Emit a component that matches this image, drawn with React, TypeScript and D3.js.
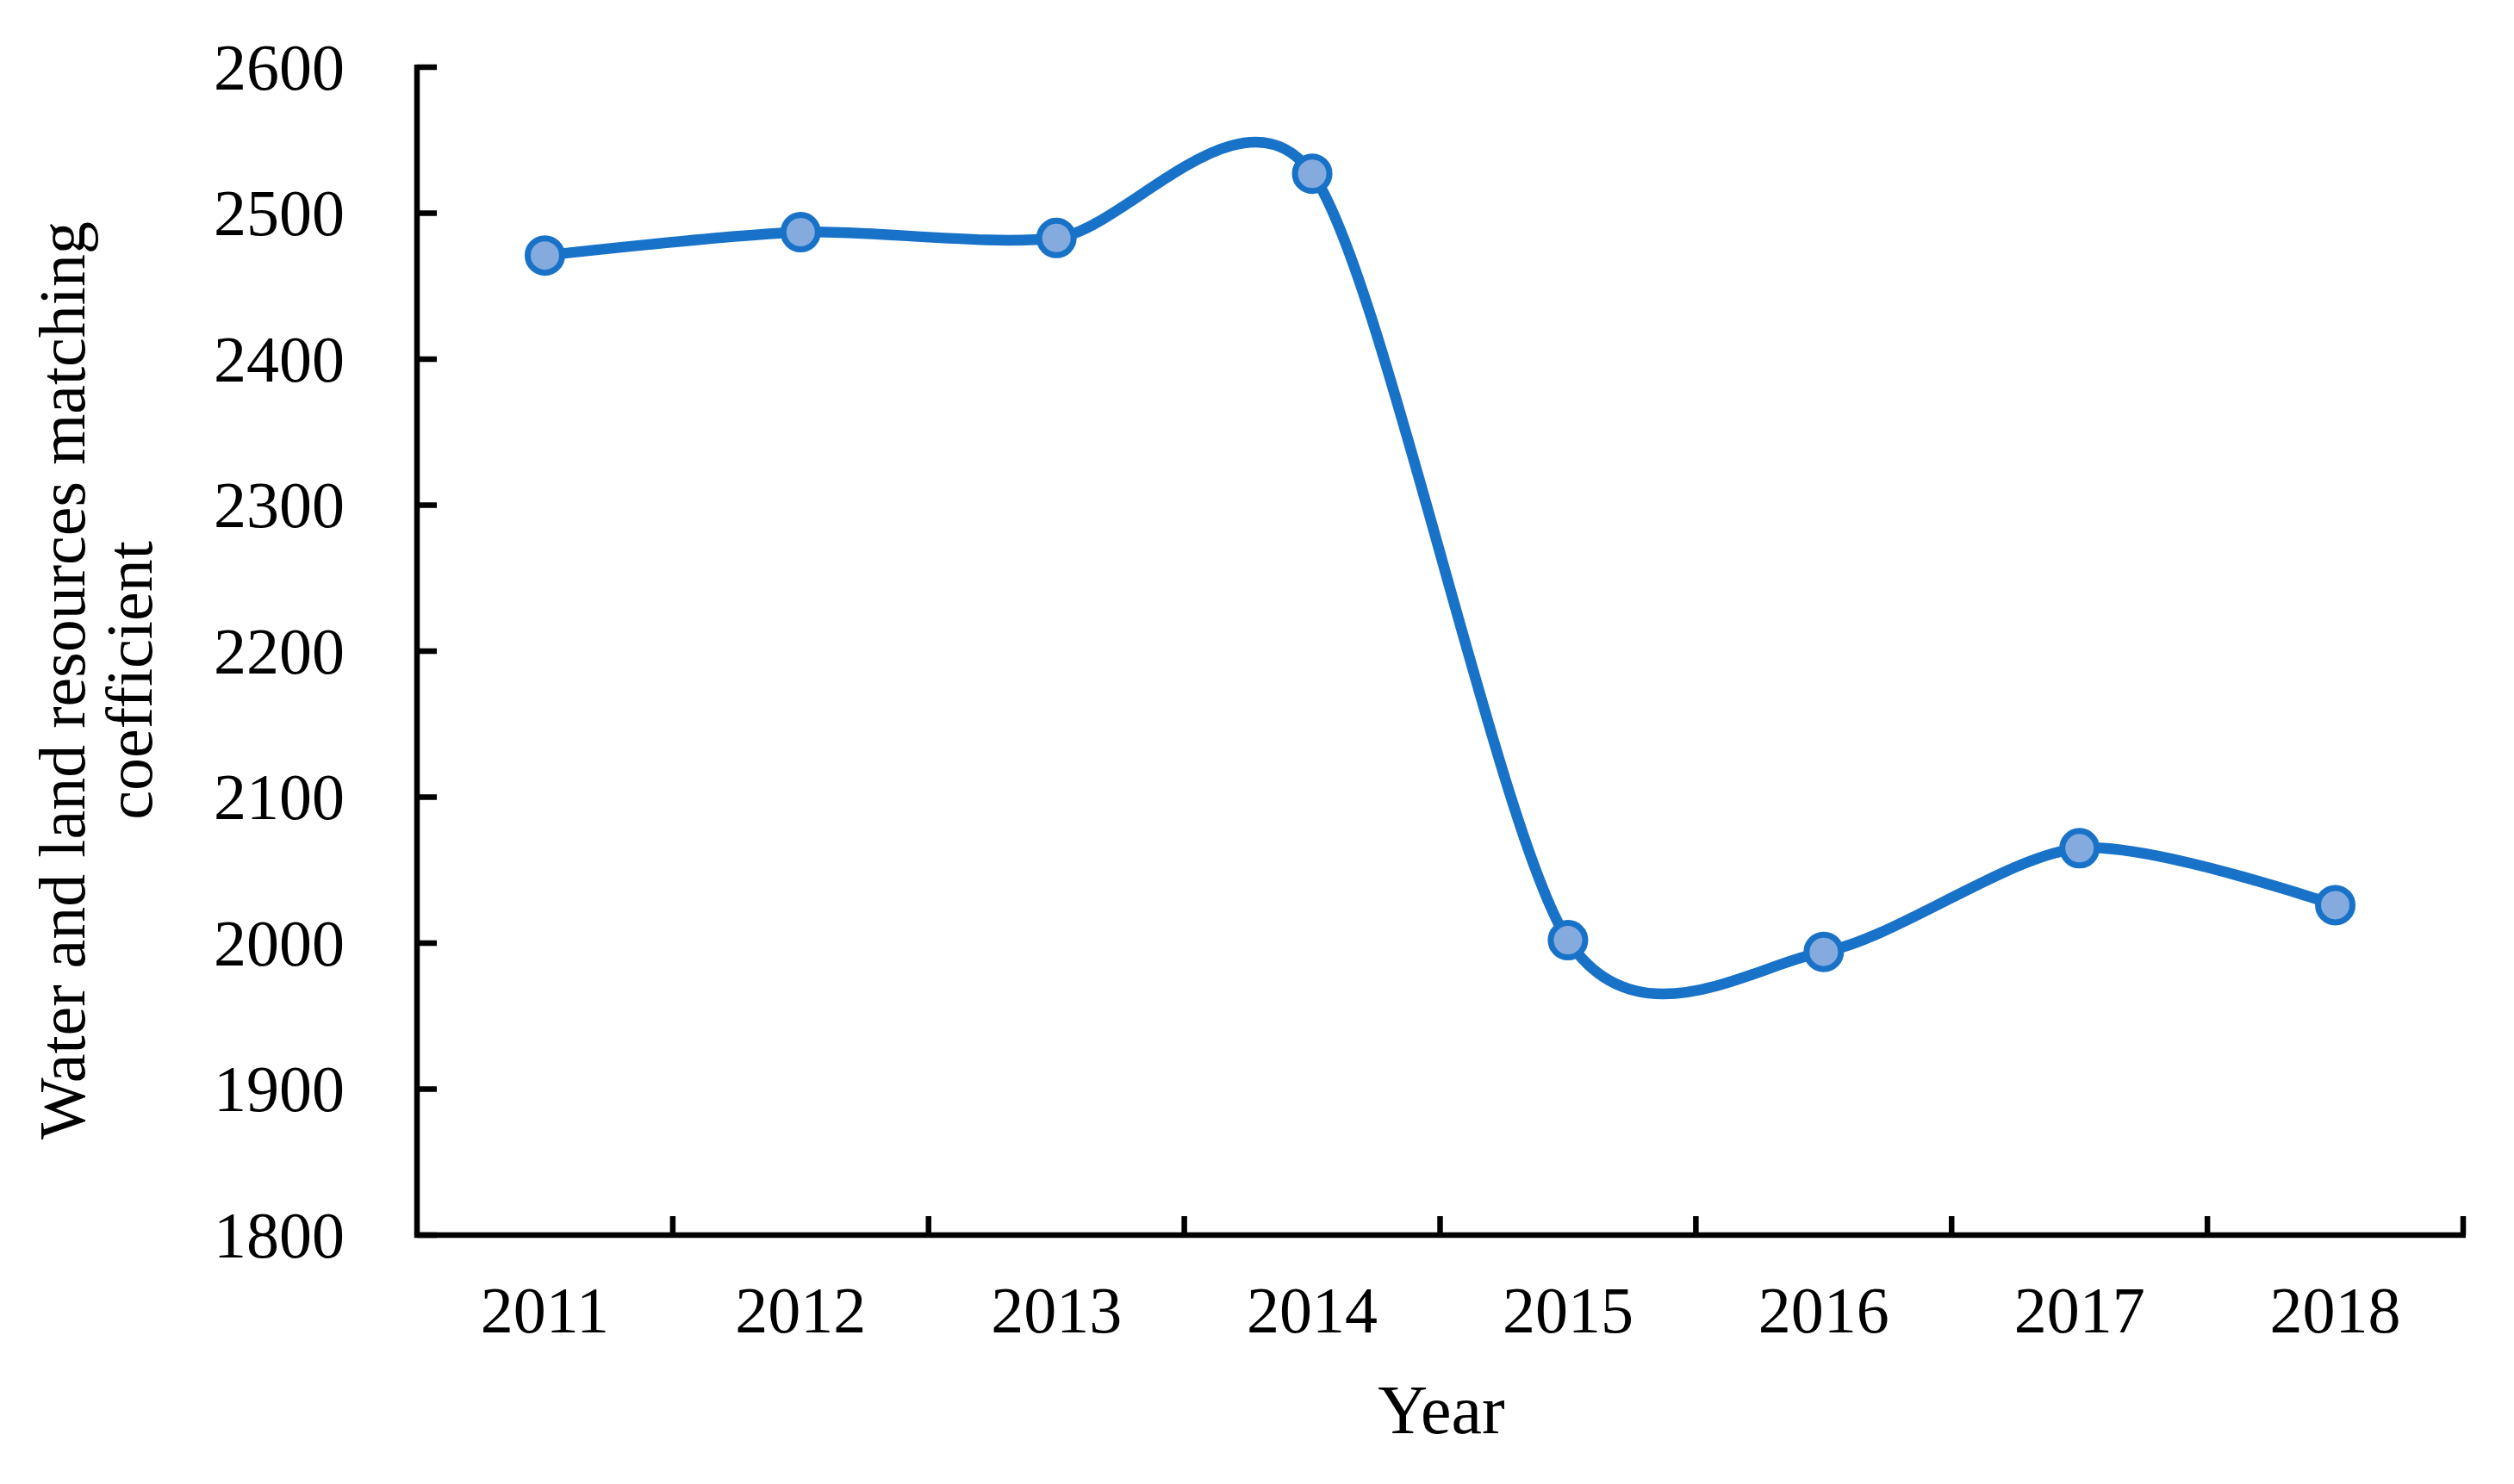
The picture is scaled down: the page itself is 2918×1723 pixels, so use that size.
import React from "react";
import * as d3 from "d3";

const years = ["2011", "2012", "2013", "2014", "2015", "2016", "2017", "2018"];
const values = [2471, 2487, 2483, 2527, 2002, 1994, 2065, 2026];
const yTicks = [1800, 1900, 2000, 2100, 2200, 2300, 2400, 2500, 2600];
const yLabelLines = ["Water and land resources matching", "coefficient"];
const xTitle = "Year";

const W = 2918;
const H = 1723;
const left = 484;
const right = 2859;
const top = 78;
const bottom = 1434;
const FONT = "'Liberation Serif', 'Times New Roman', serif";

export default function App() {
  const x = d3.scaleBand<string>().domain(years).range([left, right]);
  const y = d3.scaleLinear().domain([1800, 2600]).range([bottom, top]);
  const pts: [number, number][] = years.map((yr, i) => [x(yr)! + x.bandwidth() / 2, y(values[i])]);
  const line = d3.line().curve(d3.curveCardinal.tension(0.18))(pts) || "";
  const boundaries = d3.range(years.length + 1).map((i) => left + i * x.bandwidth());
  const blue = "#1873C8";
  return (
    <svg width={W} height={H} style={{ position: "absolute", left: 0, top: 0, display: "block" }}>
      <rect width={W} height={H} fill="#fff" />
      {/* y axis */}
      <line x1={left} x2={left} y1={top - 3} y2={bottom + 3} stroke="#000" strokeWidth={6.5} />
      {yTicks.map((t) => (
        <g key={t}>
          <line x1={left} x2={left + 23} y1={y(t)} y2={y(t)} stroke="#000" strokeWidth={6.5} />
          <text x={400} y={y(t)} dy="0.34em" textAnchor="end" fontFamily={FONT} fontSize={76}>
            {t}
          </text>
        </g>
      ))}
      {/* x axis */}
      <line x1={left - 3} x2={right + 3} y1={bottom} y2={bottom} stroke="#000" strokeWidth={6.5} />
      {boundaries.slice(1).map((bx, i) => (
        <line key={i} x1={bx} x2={bx} y1={bottom} y2={bottom - 22} stroke="#000" strokeWidth={6.5} />
      ))}
      {years.map((yr) => (
        <text key={yr} x={x(yr)! + x.bandwidth() / 2} y={1547} textAnchor="middle" fontFamily={FONT} fontSize={76}>
          {yr}
        </text>
      ))}
      <text x={1673} y={1664} textAnchor="middle" fontFamily={FONT} fontSize={80}>
        {xTitle}
      </text>
      <g transform="translate(0,790) rotate(-90)">
        {yLabelLines.map((l, i) => (
          <text key={i} x={0} y={98 + i * 78} textAnchor="middle" fontFamily={FONT} fontSize={76}>
            {l}
          </text>
        ))}
      </g>
      <path d={line} fill="none" stroke={blue} strokeWidth={12.5} />
      {pts.map((p, i) => (
        <circle key={i} cx={p[0]} cy={p[1]} r={20} fill="#84AADE" stroke={blue} strokeWidth={7} />
      ))}
    </svg>
  );
}
